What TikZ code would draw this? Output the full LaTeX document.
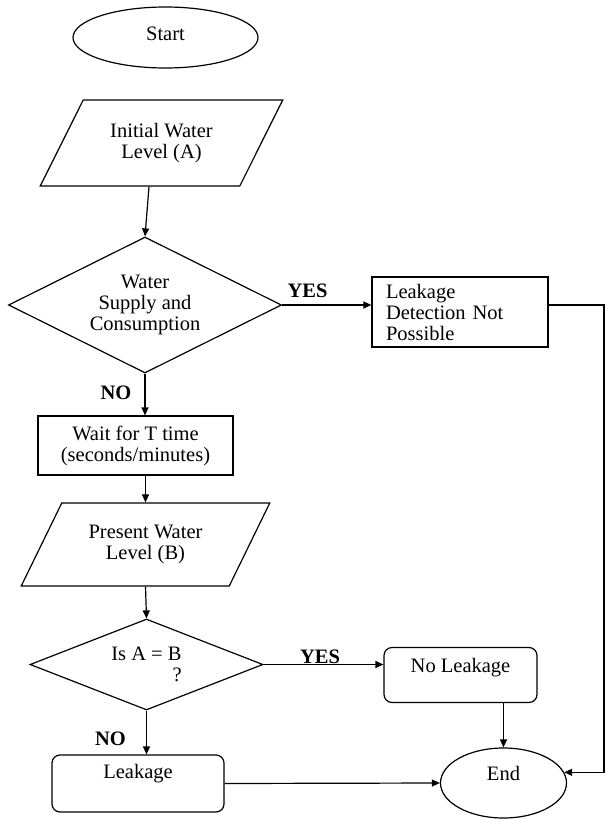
\documentclass[tikz,border=0pt]{standalone}
\usepackage{fontspec}
\setmainfont{Liberation Serif}
\usetikzlibrary{shapes.geometric,arrows.meta}

\begin{document}
\begin{tikzpicture}[x=1pt,y=-1pt,line width=1.2pt,
   every node/.style={font=\fontsize{20.5}{21}\selectfont,inner sep=0pt,align=center},
   term/.style={draw,ellipse},
   io/.style={draw,trapezium,trapezium left angle=54.6,trapezium right angle=125.4,trapezium stretches=true},
   dec/.style={draw,diamond,aspect=2},
   proc/.style={draw,rectangle},
   lbl/.style={font=\fontsize{20.5}{21}\selectfont\bfseries,anchor=base},
   arr/.style={-{Triangle[length=8pt,width=7pt]}}]
   \useasboundingbox (0,0) rectangle (605,819);
   \node[term,minimum width=185pt,minimum height=61pt,text height=14pt,text depth=9pt] (st) at (165.5,37.5) {Start};
   \node[io,minimum width=243pt,minimum height=86pt] (in1) at (161.5,143) {Initial Water\\Level (A)};
   \node[dec,minimum width=273pt,minimum height=136pt] (q1) at (145,305) {Water\\Supply and\\Consumption};
   \node[proc,minimum height=70pt,text width=148pt,inner xsep=14pt,align=left] (np) at (460,312) {Leakage\\Detection Not\\Possible};
   \node[proc,minimum width=195pt,minimum height=59pt] (w) at (135.5,445.5) {Wait for T time\\(seconds/minutes)};
   \node[io,minimum width=249pt,minimum height=83pt] (in2) at (145.5,544.5) {Present Water\\Level (B)};
   \node[dec,minimum width=233pt,minimum height=91pt] (q2) at (146.5,664.5) {Is A = B\\\hspace*{3em}?};
   \node[proc,rounded corners=8pt,minimum width=153pt,minimum height=55pt,text height=14pt,text depth=20pt] (nl) at (460.5,675) {No Leakage};
   \node[proc,rounded corners=8pt,minimum width=172pt,minimum height=57pt,text height=14pt,text depth=25pt] (lk) at (138,783.5) {Leakage};
   \node[term,minimum width=126pt,minimum height=70pt,text height=14pt,text depth=18.6pt] (e) at (503.5,783) {End};
   \node[lbl] (y1) at (307.5,297) {YES};
   \node[lbl] (n1) at (116,399) {NO};
   \node[lbl] (y2) at (320,663) {YES};
   \node[lbl] (n2) at (110.5,745) {NO};
   \coordinate (rc) at (604,305);
   \draw[arr] ([xshift=-12.5pt]in1.south) -- (q1.north);
   \draw[arr] (q1.east) -- (q1.east -| np.west);
   \draw[arr] (q1.south) -- (q1.south |- w.north);
   \draw[arr] (in2.north |- w.south) -- (in2.north);
   \draw[arr] (in2.south) -- (q2.north);
   \draw[arr] (q2.east) -- (q2.east -| nl.west);
   \draw[arr] (q2.south) -- (q2.south |- lk.north);
   \draw[arr] (nl.south -| e.north) -- (e.north);
   \draw[arr] (lk.east) -- (e.west);
   \draw[arr] (q1.east -| np.east) -- (rc) |- (e.10);
\end{tikzpicture}
\end{document}
